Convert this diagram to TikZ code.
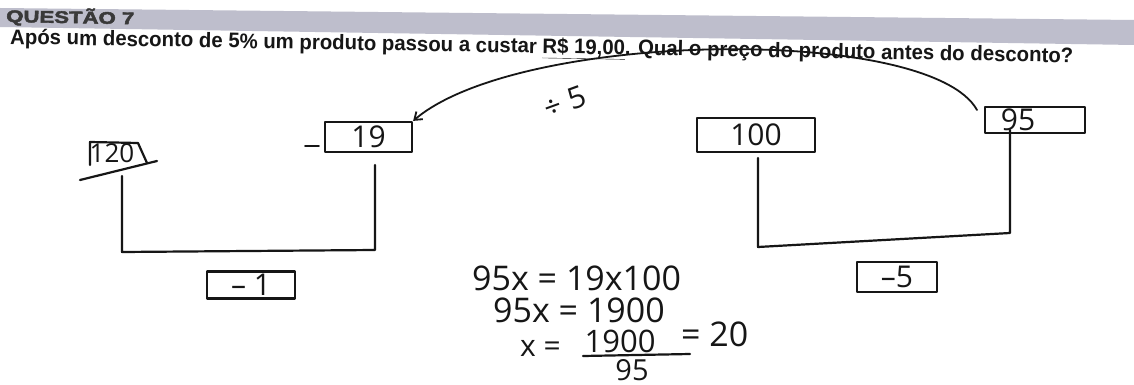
\documentclass[tikz,border=0pt]{standalone}
\usepackage{fontspec}
\setmainfont{Liberation Sans}
\newfontfamily\heavy[BoldFeatures={FakeBold=2.5}]{Liberation Sans}
\newfontfamily\hand{Open Sans}
\usepackage{graphicx}
\usetikzlibrary{arrows.meta}
\definecolor{band}{RGB}{190,190,204}
\definecolor{ink}{RGB}{22,22,22}
\begin{document}
\begin{tikzpicture}[x=1pt,y=1pt,
  pen/.style={draw=ink,line width=2.2pt,line join=round,line cap=round},
  hw/.style={font=\hand\fontsize{30}{30}\selectfont,text=ink,inner sep=0pt},
  eq/.style={font=\hand\fontsize{34}{34}\selectfont,text=ink,inner sep=0pt},
  hbox/.style={pen,hw},
]
\useasboundingbox (0,0) rectangle (1134,-385);
\fill[white] (0,0) rectangle (1134,-385);
% header band
\fill[band] (0,-8) -- (1134,-20) -- (1134,-45) -- (0,-27) -- cycle;
\node[anchor=base west,rotate=-1,inner sep=0pt,text=ink!85] (qt) at (6,-22)
  {\resizebox{128pt}{15pt}{\heavy\bfseries QUESTÃO 7}};
\node[anchor=base west,rotate=-1,inner sep=0pt,text=ink] (q) at (10,-44)
  {\resizebox{1063pt}{\height}{\bfseries\fontsize{21}{21}\selectfont Após um desconto de 5\% um produto passou a custar \underline{R\$ 19,00}. Qual o preço do produto antes do desconto?}};

% left part
\node[hw,font=\hand\fontsize{26}{26}\selectfont] (b120) at (112,-153) {120};
\draw[pen] (90,-165) -- (90,-142) -- (138,-143) -- (147,-163);
\draw[pen] (80,-180) -- (157,-161);
\node[hbox,minimum width=87pt,minimum height=30pt] (b19) at (368.5,-137) {19};
\coordinate (d1) at (305,-146);
\coordinate (d2) at (319,-146);
\draw[pen,line width=1.6pt] (d1) -- (d2);
\coordinate (a1) at (122,-176);
\coordinate (a2) at (122,-252);
\coordinate (a3) at (375,-250);
\coordinate (a4) at (375,-165);
\draw[pen] (a1) -- (a2) -- (a3) -- (a4);
\node[hbox,minimum width=88pt,minimum height=27pt] (bm1) at (251,-285) {– 1};

% right part
\node[hbox,minimum width=118pt,minimum height=34pt] (b100) at (756,-135) {100};
\node[pen,minimum width=100pt,minimum height=26pt,inner sep=0pt] (b95) at (1035,-120) {};
\node[hw] (t95) at (1018,-120) {95};
\coordinate (r1) at (758,-158);
\coordinate (r2) at (758,-247);
\coordinate (r3) at (1010,-233);
\coordinate (r4) at (1010,-130);
\draw[pen] (r1) -- (r2) -- (r3) -- (r4);
\node[hbox,minimum width=80pt,minimum height=30pt] (bm5) at (897,-277) {–5};

% arrow
\coordinate (c95) at (977,-110);
\draw[pen,line width=1.8pt,-{Straight Barb[length=7pt,width=10pt]}] (c95) .. controls (930,-25) and (520,-30) .. (b19.north east);
\node[hw,rotate=20] (div) at (565,-102) {÷ 5};

% equations
\node[eq,anchor=base west] (e1) at (472,-290) {95x = 19x100};
\node[eq,anchor=base west] (e2) at (493,-322) {95x = 1900};
\node[eq,anchor=base west,font=\hand\fontsize{30}{30}\selectfont] (e3) at (520,-356) {x =};
\node[eq,anchor=base,font=\hand\fontsize{31}{31}\selectfont] (num) at (620,-352) {1900};
\node[eq,anchor=base,font=\hand\fontsize{29}{29}\selectfont] (den) at (632,-380) {95};
\coordinate (f1) at (583,-356);
\coordinate (f2) at (690,-354);
\draw[pen] (f1) -- (f2);
\node[eq,anchor=base west] (e4) at (681,-346) {= 20};
\end{tikzpicture}
\end{document}
